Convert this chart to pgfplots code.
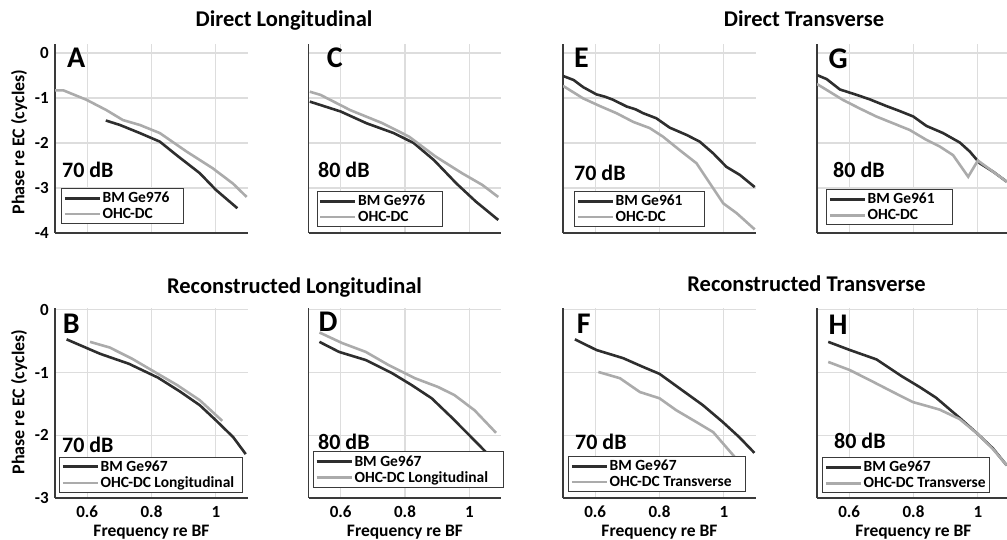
\documentclass[border=0pt]{standalone}
\usepackage{fontspec}
\setmainfont{Carlito}
\usepackage{pgfplots}
\pgfplotsset{compat=1.18}
\definecolor{darkline}{HTML}{2E2E2E}
\definecolor{lightline}{HTML}{ABABAB}
\definecolor{gridc}{HTML}{DDDDDD}
\definecolor{axisc}{HTML}{3A3A3A}
\newcommand\fs[1]{\fontsize{#1}{#1}\selectfont\bfseries}
\tikzset{
 plab/.style={anchor=base west, inner sep=0pt, font=\fs{30}},
 dblab/.style={anchor=base west, inner sep=0pt, font=\fs{22}},
}
\pgfplotsset{
 panel/.style={
  scale only axis, width=193pt,
  xmin=0.5, xmax=1.1,
  axis lines=left, axis line style={-, draw=axisc, line width=1.5pt},
  grid=major, major grid style={draw=gridc, line width=1.2pt},
  xtick={0.6,0.8,1}, xticklabels={},
  major tick length=0pt, tick style={draw=none},
  yticklabels={},
  xticklabel style={anchor=base, yshift=-19pt, font=\fs{17}},
  yticklabel style={anchor=east, inner sep=0pt, xshift=-6pt, font=\fs{17}},
  xlabel style={at={(0.5,0)}, anchor=base, yshift=-38pt, font=\fs{17.5}},
  legend cell align=left,
  legend style={draw=axisc, line width=1pt, fill=white, font=\fs{15.5}, anchor=south west,
    inner xsep=2pt, inner ysep=2pt, row sep=1pt, nodes={inner sep=1.5pt}},
  legend image code/.code={\draw[##1, line width=2.6pt] (0pt,0pt) -- (35pt,0pt);},
 },
 toprow/.style={panel, height=189pt, ymin=-4, ymax=0.2, ytick={-4,-3,-2,-1,0}},
 botrow/.style={panel, height=190pt, ymin=-3, ymax=0.03, ytick={-3,-2,-1,0},
   xticklabels={0.6,0.8,1}, xlabel={Frequency re BF}},
 dk/.style={draw=darkline, line width=2.6pt, no marks},
 lt/.style={draw=lightline, line width=2.6pt, no marks},
}
\begin{document}
\begin{tikzpicture}
\useasboundingbox (0,0) rectangle (1007pt,-540pt);
% ---------- A ----------
\begin{axis}[toprow, at={(55pt,-233pt)}, anchor=south west,
  yticklabels={-4,-3,-2,-1,0}, legend style={at={(0.031,0.048)}}]
\addplot[dk] coordinates {(0.658,-1.5) (0.702,-1.6) (0.764,-1.78) (0.826,-1.97) (0.878,-2.27) (0.95,-2.67) (1.0,-3.04) (1.067,-3.45)};
\addplot[lt] coordinates {(0.5,-0.83) (0.526,-0.83) (0.598,-1.04) (0.66,-1.27) (0.711,-1.49) (0.764,-1.6) (0.826,-1.78) (0.909,-2.19) (0.99,-2.56) (1.053,-2.9) (1.096,-3.2)};
\legend{BM Ge976\hspace*{10pt}, OHC-DC}
\node[plab] at (rel axis cs:0.062,0.878) {A};
\node[dblab] at (rel axis cs:0.036,0.296) {70 dB};
\end{axis}
% ---------- C ----------
\begin{axis}[toprow, at={(308.5pt,-233pt)}, anchor=south west, legend style={at={(0.042,0.032)}}]
\addplot[dk] coordinates {(0.504,-1.08) (0.6,-1.3) (0.68,-1.56) (0.765,-1.78) (0.827,-2.0) (0.89,-2.38) (0.96,-2.9) (1.02,-3.3) (1.09,-3.71)};
\addplot[lt] coordinates {(0.504,-0.86) (0.537,-0.93) (0.63,-1.27) (0.73,-1.56) (0.813,-1.86) (0.895,-2.3) (0.977,-2.67) (1.04,-2.93) (1.09,-3.2)};
\legend{BM Ge976\hspace*{14pt}, OHC-DC}
\node[plab] at (rel axis cs:0.094,0.878) {C};
\node[dblab] at (rel axis cs:0.049,0.296) {80 dB};
\end{axis}
% ---------- E ----------
\begin{axis}[toprow, at={(563pt,-233pt)}, anchor=south west, legend style={at={(0.057,0.032)}}]
\addplot[dk] coordinates {(0.5,-0.51) (0.533,-0.6) (0.563,-0.76) (0.604,-0.92) (0.63,-0.97) (0.656,-1.04) (0.698,-1.19) (0.725,-1.25) (0.75,-1.34) (0.79,-1.45) (0.832,-1.66) (0.884,-1.82) (0.925,-1.97) (0.967,-2.23) (1.008,-2.53) (1.05,-2.71) (1.096,-2.98)};
\addplot[lt] coordinates {(0.5,-0.73) (0.563,-1.01) (0.615,-1.18) (0.667,-1.34) (0.718,-1.53) (0.77,-1.67) (0.811,-1.86) (0.863,-2.16) (0.915,-2.45) (0.957,-2.9) (0.998,-3.34) (1.04,-3.56) (1.096,-3.92)};
\legend{BM Ge961\hspace*{18pt}, OHC-DC}
\node[plab] at (rel axis cs:0.057,0.878) {E};
\node[dblab] at (rel axis cs:0.057,0.280) {70 dB};
\end{axis}
% ---------- G ----------
\begin{axis}[toprow, at={(817pt,-233pt)}, anchor=south west, legend style={at={(0.047,0.042)}}]
\addplot[dk] coordinates {(0.5,-0.49) (0.53,-0.58) (0.571,-0.81) (0.623,-0.93) (0.664,-1.03) (0.716,-1.18) (0.757,-1.29) (0.799,-1.41) (0.84,-1.62) (0.892,-1.78) (0.944,-1.99) (0.975,-2.19) (1.006,-2.45) (1.048,-2.64) (1.09,-2.86)};
\addplot[lt] coordinates {(0.5,-0.69) (0.539,-0.86) (0.58,-1.04) (0.632,-1.23) (0.684,-1.41) (0.736,-1.56) (0.788,-1.71) (0.84,-1.93) (0.882,-2.08) (0.923,-2.27) (0.97,-2.75) (1.0,-2.39) (1.048,-2.64) (1.09,-2.86)};
\legend{BM Ge961\hspace*{14pt}, OHC-DC}
\node[plab] at (rel axis cs:0.059,0.873) {G};
\node[dblab] at (rel axis cs:0.083,0.296) {80 dB};
\end{axis}
% ---------- B ----------
\begin{axis}[botrow, at={(55pt,-498pt)}, anchor=south west,
  yticklabels={-3,-2,-1,0}, legend style={at={(0.021,0.026)}}]
\addplot[dk] coordinates {(0.536,-0.47) (0.64,-0.7) (0.73,-0.86) (0.82,-1.08) (0.888,-1.3) (0.95,-1.52) (1.0,-1.76) (1.054,-2.03) (1.093,-2.3)};
\addplot[lt] coordinates {(0.609,-0.51) (0.67,-0.6) (0.74,-0.78) (0.80,-0.96) (0.88,-1.2) (0.95,-1.44) (1.02,-1.77)};
\legend{BM Ge967, OHC-DC Longitudinal\hspace*{5pt}}
\node[plab] at (rel axis cs:0.04,0.868) {B};
\node[dblab] at (rel axis cs:0.036,0.242) {70 dB};
\end{axis}
% ---------- D ----------
\begin{axis}[botrow, at={(308.5pt,-498pt)}, anchor=south west, legend style={at={(0.023,0.053)}}]
\addplot[dk] coordinates {(0.534,-0.51) (0.595,-0.67) (0.678,-0.8) (0.76,-1.01) (0.821,-1.2) (0.883,-1.41) (0.944,-1.71) (1.006,-2.03) (1.052,-2.27) (1.09,-2.5)};
\addplot[lt] coordinates {(0.534,-0.36) (0.605,-0.53) (0.678,-0.67) (0.749,-0.88) (0.831,-1.09) (0.903,-1.23) (0.954,-1.36) (1.016,-1.6) (1.083,-1.96)};
\legend{BM Ge967, OHC-DC Longitudinal\hspace*{12pt}}
\node[plab] at (rel axis cs:0.051,0.875) {D};
\node[dblab] at (rel axis cs:0.049,0.253) {80 dB};
\end{axis}
% ---------- F ----------
\begin{axis}[botrow, at={(563pt,-498pt)}, anchor=south west, legend style={at={(0.026,0.032)}}]
\addplot[dk] coordinates {(0.537,-0.47) (0.604,-0.64) (0.687,-0.77) (0.749,-0.91) (0.8,-1.02) (0.862,-1.25) (0.935,-1.52) (0.997,-1.79) (1.048,-2.03) (1.095,-2.28)};
\addplot[lt] coordinates {(0.61,-0.99) (0.677,-1.09) (0.739,-1.31) (0.8,-1.41) (0.852,-1.6) (0.915,-1.79) (0.967,-1.95) (1.016,-2.24) (1.06,-2.5)};
\legend{BM Ge967, OHC-DC Transverse\hspace*{10pt}}
\node[plab] at (rel axis cs:0.071,0.868) {F};
\node[dblab] at (rel axis cs:0.062,0.253) {70 dB};
\end{axis}
% ---------- H ----------
\begin{axis}[botrow, at={(817pt,-498pt)}, anchor=south west, legend style={at={(0.026,0.026)}}]
\addplot[dk] coordinates {(0.535,-0.51) (0.602,-0.64) (0.685,-0.79) (0.764,-1.06) (0.819,-1.23) (0.87,-1.4) (0.943,-1.72) (1.0,-1.98) (1.047,-2.21) (1.09,-2.48)};
\addplot[lt] coordinates {(0.535,-0.83) (0.602,-0.96) (0.664,-1.12) (0.736,-1.31) (0.798,-1.47) (0.84,-1.53) (0.881,-1.59) (0.943,-1.74) (1.0,-1.98) (1.047,-2.22) (1.09,-2.48)};
\legend{BM Ge967, OHC-DC Transverse}
\node[plab] at (rel axis cs:0.059,0.858) {H};
\node[dblab] at (rel axis cs:0.088,0.263) {80 dB};
\end{axis}
% ---------- titles and shared labels ----------
\node[font=\fs{22.5}, anchor=base] at (284pt,-27pt) {Direct Longitudinal};
\node[font=\fs{22.5}, anchor=base] at (804pt,-27pt) {Direct Transverse};
\node[font=\fs{22.5}, anchor=base] at (294.5pt,-294pt) {Reconstructed Longitudinal};
\node[font=\fs{22.5}, anchor=base] at (806.5pt,-291pt) {Reconstructed Transverse};
\node[font=\fs{18}, rotate=90] at (19pt,-142pt) {Phase re EC (cycles)};
\node[font=\fs{18}, rotate=90] at (19pt,-402pt) {Phase re EC (cycles)};
\end{tikzpicture}
\end{document}
